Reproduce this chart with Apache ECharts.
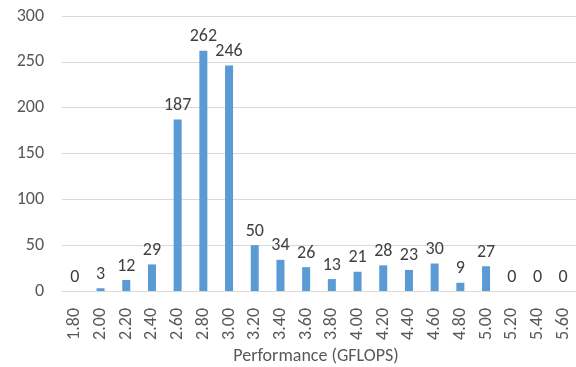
<!DOCTYPE html>
<html>
<head>
<meta charset="utf-8">
<script src="https://cdn.jsdelivr.net/npm/echarts@6/dist/echarts.min.js"></script>
<style>
html,body{margin:0;padding:0;background:#fff;}
#chart{width:576px;height:367px;}
</style>
</head>
<body>
<div id="chart"></div>
<script>
// Performance histogram bins (GFLOPS) and counts
const categories = ['1.80','2.00','2.20','2.40','2.60','2.80','3.00','3.20','3.40','3.60','3.80','4.00','4.20','4.40','4.60','4.80','5.00','5.20','5.40','5.60'];
const counts = [0,3,12,29,187,262,246,50,34,26,13,21,28,23,30,9,27,0,0,0];
const yTicks = { min: 0, max: 300, interval: 50 };

const chart = echarts.init(document.getElementById('chart'), null, { renderer: 'canvas' });
chart.setOption({
  animation: false,
  textStyle: { fontFamily: 'Calibri, Carlito, "Open Sans", "Liberation Sans", sans-serif' },
  grid: { left: 62, right: 0, top: 16, bottom: 76, containLabel: false, outerBoundsMode: 'none' },
  xAxis: {
    type: 'category',
    data: categories,
    name: 'Performance (GFLOPS)',
    nameLocation: 'middle',
    nameGap: 55,
    nameTextStyle: { color: '#595959', fontSize: 18, padding: [0, 6, 0, 0] },
    axisLine: { lineStyle: { color: '#d9d9d9' } },
    axisTick: { show: false },
    axisLabel: { rotate: 90, color: '#595959', fontSize: 18, margin: 17 }
  },
  yAxis: {
    type: 'value',
    min: yTicks.min, max: yTicks.max, interval: yTicks.interval,
    axisLine: { show: false },
    axisTick: { show: false },
    axisLabel: { color: '#595959', fontSize: 18, margin: 18 },
    splitLine: { lineStyle: { color: '#d9d9d9' } }
  },
  series: [{
    type: 'bar',
    data: counts,
    barWidth: 8,
    itemStyle: { color: '#5b9bd5' },
    label: { show: true, position: 'top', color: '#404040', fontSize: 18, distance: 5 }
  }]
});
</script>
</body>
</html>
